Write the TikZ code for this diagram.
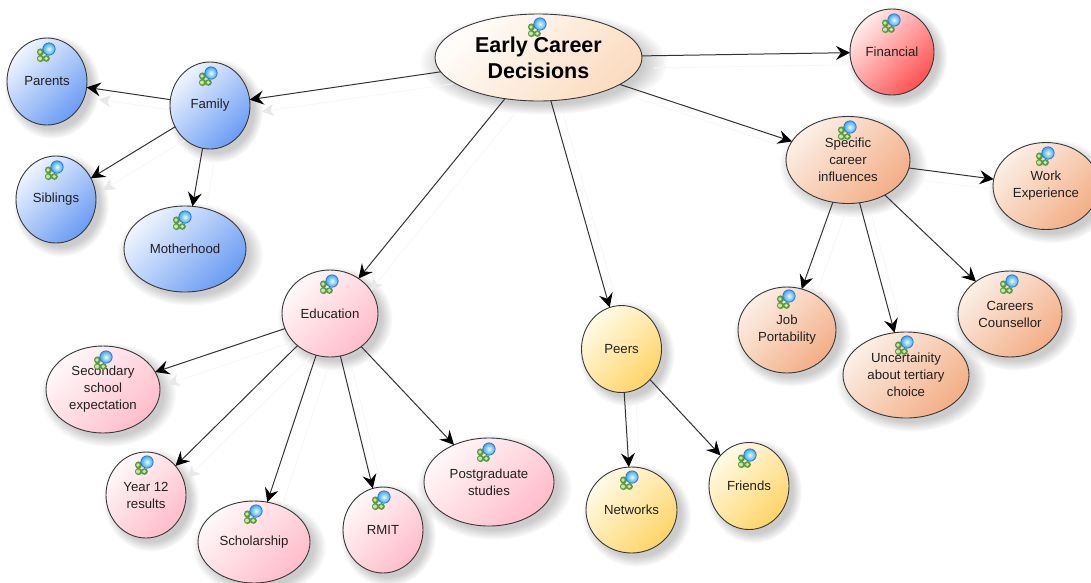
\documentclass[tikz,border=0pt]{standalone}
\usepackage{fontspec}
\setmainfont{Liberation Sans}
\usetikzlibrary{arrows.meta,shapes.geometric,fadings,backgrounds}
\definecolor{bluea}{HTML}{F0F5FE}\definecolor{blueb}{HTML}{6A9CF4}
\definecolor{pinka}{HTML}{FFF8F9}\definecolor{pinkb}{HTML}{FFBCCA}
\definecolor{cream}{HTML}{FFFDFA}\definecolor{creamb}{HTML}{FBDCC0}
\definecolor{reda}{HTML}{FFEDED}\definecolor{redb}{HTML}{FF5050}
\definecolor{yela}{HTML}{FFFBE8}\definecolor{yelb}{HTML}{FFD466}
\definecolor{orga}{HTML}{FCEFE6}\definecolor{orgb}{HTML}{F3AE86}
\definecolor{inkc}{HTML}{202020}
\definecolor{icong}{HTML}{5C9A3C}\definecolor{iconl}{HTML}{C4E8A8}
\definecolor{lensa}{HTML}{E8FAFF}\definecolor{lensb}{HTML}{38A8F0}\definecolor{lensc}{HTML}{2A70D0}
\tikzset{
  x=1pt,y=-1pt,
  bubble/.style={ellipse,draw=black!78,line width=.9pt,inner sep=0pt,outer sep=0pt,align=center,
    font=\fontsize{13.2}{17}\selectfont,text=inkc},
  diag/.style={shading=axis,shading angle=45},
  bluenode/.style={bubble,top color=bluea,bottom color=blueb,diag},
  pinknode/.style={bubble,top color=pinka,bottom color=pinkb,diag},
  rootnode/.style={bubble,top color=cream,bottom color=creamb,diag,font=\fontsize{21.5}{26}\selectfont\bfseries,text=black},
  rednode/.style={bubble,top color=reda,bottom color=redb,diag},
  yelnode/.style={bubble,top color=yela,bottom color=yelb,diag},
  orgnode/.style={bubble,top color=orga,bottom color=orgb,diag},
  link/.style={draw=black!80,line width=1pt,-{Stealth[length=14pt,width=14pt,inset=5pt,color=black]}},
  ghost/.style={draw=black!3,line width=.9pt,-{Stealth[length=12pt,width=12pt,inset=3pt,color=black!9]},
    transform canvas={shift={(12pt,-12pt)}}},
}
% name, x, y, rx, ry, style, text
\newcommand{\bub}[7]{%
  \begin{scope}[on background layer]
    \fill[black,opacity=.2,path fading=circle with fuzzy edge 20 percent]
      (#2+5,#3+5) ellipse [x radius=#4*1.2,y radius=#5*1.2];
  \end{scope}
  \node[#6,minimum width=#4*2pt,minimum height=#5*2pt] (#1) at (#2,#3) {#7};}
% icon at x, y (centre of the lens)
\newcommand{\ico}[2]{%
  \begin{scope}[shift={(#1,#2)}]
    \fill[icong] (-8.5,3) circle (3.6) (-8.5,9.5) circle (3.6) (-2.5,9.5) circle (3.4);
    \fill[iconl] (-9,3) circle (1.9) (-9,9.5) circle (2) (-2.8,9.5) circle (1.9);
    \shade[inner color=lensa,outer color=lensb] (0,0) circle (6.2);
    \draw[lensc,line width=.7pt] (0,0) circle (6.2);
  \end{scope}}
\newcommand{\lk}[2]{%
  \begin{scope}[on background layer]\draw[ghost] (#1) -- (#2);\end{scope}
  \draw[link] (#1) -- (#2);}
\begin{document}
\begin{tikzpicture}
\useasboundingbox (0,0) rectangle (1091,582);
\clip (0,0) rectangle (1091,582);
\bub{early}{538.5}{57.5}{103.5}{43.5}{rootnode}{Early Career\\Decisions}
\bub{financial}{892}{52}{42}{43}{rednode}{Financial}
\bub{parents}{47}{81.5}{40}{43.5}{bluenode}{Parents}
\bub{family}{210}{105.5}{40}{43.5}{bluenode}{Family}
\bub{siblings}{56}{199.5}{40}{43.5}{bluenode}{Siblings}
\bub{mother}{185}{249}{61}{43}{bluenode}{Motherhood}
\bub{education}{330}{313.5}{48}{43.5}{pinknode}{Education}
\bub{secondary}{103}{389.5}{57}{43.5}{pinknode}{Secondary\\school\\expectation}
\bub{year}{146}{495}{40}{43}{pinknode}{Year 12\\results}
\bub{scholar}{254}{542}{56}{41}{pinknode}{Scholarship}
\bub{rmit}{383}{530}{40}{43}{pinknode}{RMIT}
\bub{post}{489}{482}{65}{44}{pinknode}{Postgraduate\\studies}
\bub{peers}{621.5}{349}{40}{43.5}{yelnode}{Peers}
\bub{networks}{631.5}{510}{45.5}{43}{yelnode}{Networks}
\bub{friends}{749}{486}{40}{43.5}{yelnode}{Friends}
\bub{specific}{848}{160}{62}{43.5}{orgnode}{Specific\\career\\influences}
\bub{work}{1046}{186}{53}{43.5}{orgnode}{Work\\Experience}
\bub{job}{787}{330}{49}{43}{orgnode}{Job\\Portability}
\bub{uncert}{906}{375}{63}{43}{orgnode}{Uncertainity\\about tertiary\\choice}
\bub{careers}{1010}{314}{52}{43}{orgnode}{Careers\\Counsellor}
\lk{early}{family}\lk{early}{financial}\lk{early}{specific}\lk{early}{education}\lk{early}{peers}
\lk{family}{parents}\lk{family}{siblings}\lk{family}{mother}
\lk{education}{secondary}\lk{education}{year}\lk{education}{scholar}\lk{education}{rmit}\lk{education}{post}
\lk{peers}{networks}\lk{peers}{friends}
\lk{specific}{work}\lk{specific}{job}\lk{specific}{uncert}\lk{specific}{careers}
\foreach \px/\py in {540/24,894/20,49/49,211/73,57/167,185/217,332/281,106/357,147/462,256/511,384/497,489/449,632/477,750/455,850/127,1048/153,789/296,907/342,1012/281}{\ico{\px}{\py}}
\end{tikzpicture}
\end{document}
